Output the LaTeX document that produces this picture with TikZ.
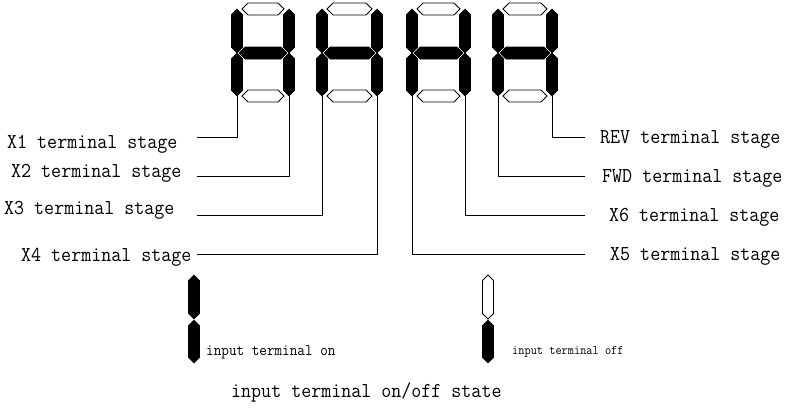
\documentclass[tikz,border=0pt]{standalone}
\usepackage{graphicx}
\newcommand\lbl[2]{\scalebox{0.917}[1]{\fontsize{#1}{#1}\selectfont\ttfamily #2}}
% vertical segment: x, ytop, ybot, style
\newcommand\vsegm[4]{\draw[#4] (#1,#2) -- ++(5.5,5.5) -- (#1+5.5,#3-5.5) -- (#1,#3) -- (#1-5.5,#3-5.5) -- (#1-5.5,#2+5.5) -- cycle;}
% horizontal segment: x1, x2, yc, style
\newcommand\hsegm[4]{\draw[#4] (#1,#3) -- (#1+6,#3-6) -- (#2-6,#3-6) -- (#2,#3) -- (#2-6,#3+6) -- (#1+6,#3+6) -- cycle;}
\newcommand\digitx[3]{%
  \vsegm{#1}{9}{53}{segon}\vsegm{#1}{53}{96}{segon}
  \vsegm{#2}{9}{53}{segon}\vsegm{#2}{53}{96}{segon}
  \hsegm{#1+5}{#2-5}{9}{segoff}
  \hsegm{#1+2}{#2-2}{53}{segon}
  \hsegm{#1+5}{#2-5}{96}{segoff}
  \coordinate (#3L) at (#1,96);
  \coordinate (#3R) at (#2,96);}
\begin{document}
\begin{tikzpicture}[x=1pt,y=-1pt,
  segon/.style={fill=black,draw=black,line width=0.6pt,line join=miter},
  segoff/.style={fill=white,draw=black,line width=0.8pt},
  wire/.style={draw=black,line width=0.9pt},
  lab/.style={inner sep=0pt,anchor=base west}]
\useasboundingbox (0,0) rectangle (786,408);
\digitx{237}{289}{da}
\digitx{322}{377}{db}
\digitx{412}{465}{dc}
\digitx{498}{552}{dd}
% left labels
\node[lab] (x1) at (7,148) {\lbl{21.2}{X1 terminal stage}};
\node[lab] (x2) at (11,177) {\lbl{21.2}{X2 terminal stage}};
\node[lab] (x3) at (4,214) {\lbl{21.2}{X3 terminal stage}};
\node[lab] (x4) at (21,261) {\lbl{21.2}{X4 terminal stage}};
% right labels
\node[lab] (rev) at (600,143) {\lbl{21.2}{REV terminal stage}};
\node[lab] (fwd) at (602,182) {\lbl{21.2}{FWD terminal stage}};
\node[lab] (x6) at (609,221) {\lbl{21.2}{X6 terminal stage}};
\node[lab] (x5) at (610,260) {\lbl{21.2}{X5 terminal stage}};
% line ends
\coordinate (e1) at (197,137);
\coordinate (e2) at (197,176);
\coordinate (e3) at (197,215);
\coordinate (e4) at (197,254);
\coordinate (e5) at (585,254);
\coordinate (e6) at (585,215);
\coordinate (e7) at (585,176);
\coordinate (e8) at (585,137);
\draw[wire] (daL) |- (e1);
\draw[wire] (daR) |- (e2);
\draw[wire] (dbL) |- (e3);
\draw[wire] (dbR) |- (e4);
\draw[wire] (dcL) |- (e5);
\draw[wire] (dcR) |- (e6);
\draw[wire] (ddL) |- (e7);
\draw[wire] (ddR) |- (e8);
% indicators
\vsegm{194}{275}{319}{segon}\vsegm{194}{320}{363}{segon}
\vsegm{488}{275}{319}{segoff}\vsegm{488}{320}{363}{segon}
\node[lab] (on) at (206,355) {\lbl{16.1}{input terminal on}};
\node[lab] (off) at (512,354) {\lbl{13.1}{input terminal off}};
\node[lab] (cap) at (231,397) {\lbl{21.2}{input terminal on/off state}};
\end{tikzpicture}
\end{document}
